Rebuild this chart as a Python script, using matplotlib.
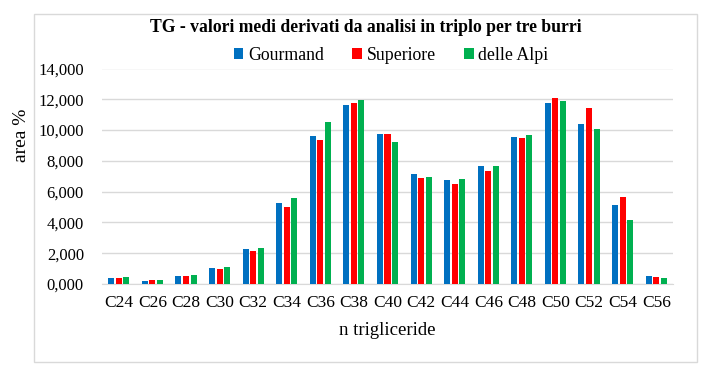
import matplotlib.pyplot as plt
import numpy as np
from matplotlib.patches import Rectangle

plt.rcParams['font.family'] = ['Liberation Serif', 'DejaVu Serif']

categories = ['C24', 'C26', 'C28', 'C30', 'C32', 'C34', 'C36', 'C38', 'C40',
              'C42', 'C44', 'C46', 'C48', 'C50', 'C52', 'C54', 'C56']
gourmand = [391, 196, 522, 1043, 2283, 5290, 9621, 11636, 9751,
            7150, 6760, 7670, 9556, 11766, 10401, 5135, 520]
superiore = [391, 261, 522, 978, 2152, 5032, 9361, 11766, 9751,
             6890, 6500, 7345, 9490, 12091, 11441, 5655, 455]
alpi = [457, 261, 587, 1109, 2348, 5613, 10531, 11961, 9231,
        6956, 6826, 7670, 9686, 11896, 10076, 4160, 390]
series_names = ['Gourmand', 'Superiore', 'delle Alpi']
yticks = [0, 2000, 4000, 6000, 8000, 10000, 12000, 14000]
yticklabels = ['0,000', '2,000', '4,000', '6,000', '8,000', '10,000', '12,000', '14,000']

colors = ['#0070C0', '#FF0000', '#00B050']

fig = plt.figure(figsize=(7.14, 3.74), dpi=100)
# chart frame
fig.patches.append(Rectangle((34/714, 1-362/374), (697-34)/714, (362-14)/374,
                             transform=fig.transFigure, fill=False,
                             edgecolor='#D9D9D9', linewidth=1))

ax = fig.add_axes([102/714, 1-284/374, (673-102)/714, (284-68.5)/374])
x = np.arange(len(categories))
w = 0.18
off = 0.225
for i, (vals, name) in enumerate(zip([gourmand, superiore, alpi], series_names)):
    ax.bar(x + (i-1)*off, vals, width=w, color=colors[i], label=name, zorder=3)

ax.set_xlim(-0.5, len(categories)-0.5)
ax.set_ylim(0, 14000)
ax.set_yticks(yticks)
ax.set_yticklabels(yticklabels, fontsize=12)
ax.set_xticks(x)
ax.set_xticklabels(categories, fontsize=12.5)
ax.tick_params(axis='x', length=0, pad=8)
ax.tick_params(axis='y', length=0, pad=13)
ax.grid(axis='y', color='#D9D9D9', linewidth=1, zorder=0)
for s in ['top', 'right', 'left']:
    ax.spines[s].set_visible(False)
ax.spines['bottom'].set_color('#D9D9D9')

ax.set_xlabel('n trigliceride', fontsize=13.5, labelpad=8)
fig.text(22/714, 1-135/374, 'area %', rotation=90, fontsize=14,
         ha='center', va='center')
fig.text(366/714, 1-28/374,
         'TG - valori medi derivati da analisi in triplo per tre burri',
         fontsize=12.7, fontweight='bold', ha='center', va='center')
ax.legend(loc='center', bbox_to_anchor=(391/714, 1-55/374), bbox_transform=fig.transFigure,
          ncol=3, frameon=False, fontsize=12.8, handlelength=0.55, handleheight=0.55,
          handletextpad=0.25, columnspacing=1.6)

fig.savefig('out.png', dpi=100)
